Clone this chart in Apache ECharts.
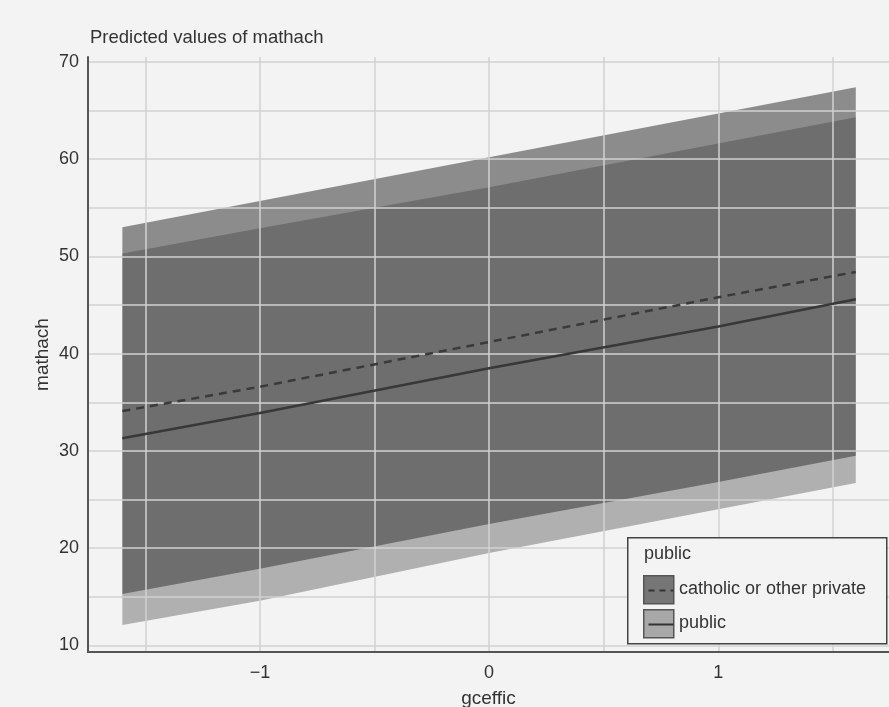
<!DOCTYPE html>
<html>
<head>
<meta charset="utf-8">
<script src="https://cdn.jsdelivr.net/npm/echarts@6/dist/echarts.min.js"></script>
<style>
  html, body { margin: 0; padding: 0; background: #f3f3f3; }
  #chart { width: 889px; height: 707px; }
</style>
</head>
<body>
<div id="chart"></div>
<script>
// predicted values
const gceffic = [-1.6, -1, 0, 1, 1.6];
const catholicMean = [34.1, 36.6, 41.2, 45.8, 48.4];
const catholicLow = [15.3, 17.9, 22.5, 26.8, 29.5];
const catholicHigh = [53.0, 55.7, 60.2, 64.7, 67.4];
const publicMean = [31.3, 33.9, 38.5, 42.8, 45.6];
const publicLow = [12.1, 14.6, 19.5, 24.0, 26.7];
const publicHigh = [50.3, 52.9, 57.1, 61.6, 64.3];

const yTicks = [10, 15, 20, 25, 30, 35, 40, 45, 50, 55, 60, 65, 70];
const yLabels = [10, 20, 30, 40, 50, 60, 70];
const xTicks = [-1.5, -1, -0.5, 0, 0.5, 1, 1.5];
const xLabels = [-1, 0, 1];

const FONT = "Liberation Sans";

function pairs(ys) {
  return gceffic.map((x, i) => [x, ys[i]]);
}
function rows(lo, hi) {
  return gceffic.map((x, i) => [x, lo[i], hi[i]]);
}
function fmt(v) {
  return v < 0 ? "\u2212" + Math.abs(v) : String(v);
}

// one polygon per ribbon, drawn once from the first item
function ribbon(lo, hi, color, z) {
  return {
    type: "custom",
    data: rows(lo, hi),
    z: z,
    silent: true,
    renderItem: function (params, api) {
      if (params.dataIndex !== 0) return;
      const top = gceffic.map((x, i) => api.coord([x, hi[i]]));
      const bottom = gceffic.map((x, i) => api.coord([x, lo[i]])).reverse();
      return {
        type: "polygon",
        shape: { points: top.concat(bottom) },
        style: { fill: color }
      };
    }
  };
}

const LZ = 100; // legend box sits above the grid lines
const chart = echarts.init(document.getElementById("chart"));
chart.setOption({
  backgroundColor: "#f3f3f3",
  animation: false,
  textStyle: { fontFamily: FONT },
  title: {
    text: "Predicted values of mathach",
    left: 85,
    top: 23,
    textStyle: { fontFamily: FONT, fontSize: 18.5, fontWeight: "normal", color: "#333" }
  },
  grid: { left: 88, right: 0, top: 57, bottom: 55, outerBoundsMode: "none", containLabel: false },
  xAxis: {
    type: "value",
    min: -1.75,
    max: 1.745,
    z: 5,
    name: "gceffic",
    nameLocation: "middle",
    nameGap: 37,
    nameTextStyle: { fontFamily: FONT, fontSize: 19, color: "#333" },
    axisLine: { show: true, onZero: false, lineStyle: { color: "#555", width: 2 } },
    axisTick: { show: false, customValues: xTicks },
    axisLabel: { customValues: xLabels, formatter: fmt, margin: 12, fontSize: 18, color: "#333" },
    splitLine: { show: true, lineStyle: { color: "#d2d2d2", width: 1.5 } }
  },
  yAxis: {
    type: "value",
    min: 9.33,
    max: 70.5,
    z: 5,
    name: "mathach",
    nameLocation: "middle",
    nameGap: 36,
    nameMoveOverlap: false,
    nameRotate: 90,
    nameTextStyle: { fontFamily: FONT, fontSize: 19, color: "#333" },
    axisLine: { show: true, onZero: false, lineStyle: { color: "#555", width: 2 } },
    axisTick: { show: false, customValues: yTicks },
    axisLabel: { customValues: yLabels, margin: 9, fontSize: 18, color: "#333" },
    splitLine: { show: true, lineStyle: { color: "#d2d2d2", width: 1.5 } }
  },
  series: [
    ribbon(publicLow, publicHigh, "rgba(74,74,74,0.4)", 1),
    ribbon(catholicLow, catholicHigh, "rgba(58,58,58,0.56)", 2),
    {
      name: "catholic or other private",
      type: "line",
      data: pairs(catholicMean),
      symbol: "none",
      lineStyle: { color: "#3a3a3a", width: 2.5, type: [8, 6] },
      z: 8
    },
    {
      name: "public",
      type: "line",
      data: pairs(publicMean),
      symbol: "none",
      lineStyle: { color: "#383838", width: 2.5 },
      z: 8
    }
  ],
  graphic: [
    { type: "rect", z: LZ, left: 627, top: 537, shape: { width: 259, height: 106 }, style: { fill: "#f3f3f3", stroke: "#444", lineWidth: 1.5 } },
    { type: "text", z: LZ + 1, left: 644, top: 545, style: { text: "public", font: "18px " + FONT, fill: "#333" } },
    { type: "rect", z: LZ + 1, left: 643, top: 575, shape: { width: 30, height: 28 }, style: { fill: "#767676", stroke: "#555", lineWidth: 1.5 } },
    { type: "line", z: LZ + 2, left: 646, top: 588, shape: { x1: 0, y1: 0, x2: 25, y2: 0 }, style: { stroke: "#333", lineWidth: 2, lineDash: [6, 5] } },
    { type: "text", z: LZ + 1, left: 679, top: 580, style: { text: "catholic or other private", font: "18px " + FONT, fill: "#333" } },
    { type: "rect", z: LZ + 1, left: 643, top: 609, shape: { width: 30, height: 28 }, style: { fill: "#a8a8a8", stroke: "#555", lineWidth: 1.5 } },
    { type: "line", z: LZ + 2, left: 646, top: 622, shape: { x1: 0, y1: 0, x2: 25, y2: 0 }, style: { stroke: "#333", lineWidth: 2 } },
    { type: "text", z: LZ + 1, left: 679, top: 614, style: { text: "public", font: "18px " + FONT, fill: "#333" } }
  ]
});
</script>
</body>
</html>
